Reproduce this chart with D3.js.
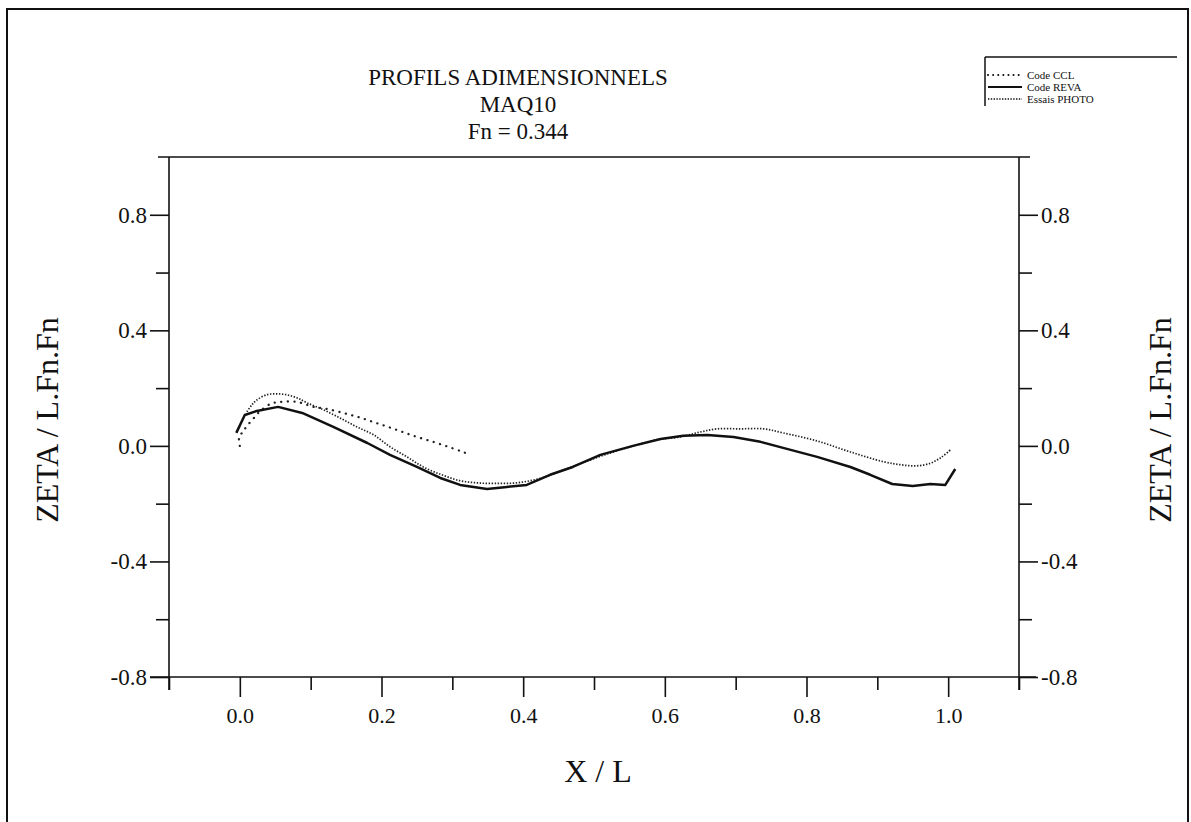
<!DOCTYPE html>
<html><head><meta charset="utf-8">
<script src="https://cdn.jsdelivr.net/npm/d3@7"></script>
<style>
html,body{margin:0;padding:0;background:#fff;}
svg{display:block;}
text{font-family:"Liberation Serif","Times New Roman",serif;fill:#111;}
</style></head>
<body>
<svg id="chart" width="1191" height="822"></svg>
<script>
// ---- data ----
const titleLines = ["PROFILS ADIMENSIONNELS", "MAQ10", "Fn = 0.344"];
const xLabel = "X / L";
const yLabel = "ZETA / L.Fn.Fn";
const legendLabels = ["Code CCL", "Code REVA", "Essais PHOTO"];
const xMajorTicks = [0.0, 0.2, 0.4, 0.6, 0.8, 1.0];
const xMinorTicks = [-0.1, 0.1, 0.3, 0.5, 0.7, 0.9, 1.1];
const yMajorTicks = [-0.8, -0.4, 0.0, 0.4, 0.8];
const yMinorTicks = [-0.6, -0.2, 0.2, 0.6];

const cclX = [0.0, -0.001, 0.004, 0.010, 0.019, 0.026, 0.043, 0.057, 0.081, 0.104, 0.123, 0.146, 0.167, 0.188, 0.209, 0.230, 0.250, 0.273, 0.294, 0.315, 0.325];
const cclY = [0.0, 0.031, 0.048, 0.069, 0.094, 0.114, 0.145, 0.152, 0.152, 0.135, 0.128, 0.114, 0.100, 0.083, 0.066, 0.048, 0.031, 0.014, -0.003, -0.021, -0.031];

const revaX = [-0.005, 0.007, 0.024, 0.054, 0.088, 0.132, 0.180, 0.212, 0.250, 0.283, 0.311, 0.349, 0.377, 0.405, 0.438, 0.470, 0.509, 0.555, 0.594, 0.626, 0.660, 0.697, 0.735, 0.767, 0.815, 0.862, 0.890, 0.921, 0.950, 0.975, 0.996, 1.010];
const revaY = [0.045, 0.107, 0.121, 0.135, 0.114, 0.066, 0.010, -0.031, -0.073, -0.111, -0.135, -0.149, -0.142, -0.135, -0.100, -0.073, -0.031, 0.0, 0.024, 0.035, 0.038, 0.031, 0.014, -0.007, -0.038, -0.073, -0.100, -0.132, -0.139, -0.132, -0.135, -0.080];

const photoX = [0.010, 0.017, 0.024, 0.038, 0.052, 0.066, 0.081, 0.095, 0.118, 0.141, 0.165, 0.189, 0.212, 0.236, 0.259, 0.285, 0.310, 0.335, 0.360, 0.390, 0.420, 0.450, 0.480, 0.520, 0.560, 0.590, 0.622, 0.650, 0.674, 0.706, 0.739, 0.767, 0.815, 0.862, 0.909, 0.935, 0.956, 0.975, 0.990, 1.003];
const photoY = [0.118, 0.142, 0.159, 0.177, 0.180, 0.177, 0.166, 0.149, 0.125, 0.097, 0.066, 0.038, -0.003, -0.038, -0.073, -0.100, -0.120, -0.128, -0.130, -0.128, -0.115, -0.090, -0.062, -0.027, 0.003, 0.022, 0.031, 0.048, 0.059, 0.059, 0.059, 0.045, 0.017, -0.021, -0.055, -0.066, -0.069, -0.060, -0.040, -0.014];

// ---- layout ----
const svg = d3.select("#chart");
const L = 169, R = 1019, T = 157, B = 677;
const x = d3.scaleLinear().domain([-0.1, 1.1]).range([L, R]);
const y = d3.scaleLinear().domain([-0.8, 1.0]).range([B, T]);
const fmt = v => v.toFixed(1).replace("−", "-");

// outer frame
svg.append("rect").attr("x", 7).attr("y", 9).attr("width", 1181).attr("height", 830)
  .attr("fill", "none").attr("stroke", "#111").attr("stroke-width", 2);

const frame = svg.append("g").attr("stroke", "#111").attr("stroke-width", 1.6);
frame.append("line").attr("x1", L - 11).attr("x2", R + 11).attr("y1", T).attr("y2", T);
frame.append("line").attr("x1", L - 19).attr("x2", R + 17).attr("y1", B).attr("y2", B);
frame.append("line").attr("x1", L).attr("x2", L).attr("y1", T).attr("y2", B + 13);
frame.append("line").attr("x1", R).attr("x2", R).attr("y1", T).attr("y2", B + 13);

// bottom axis
const xAxisMajor = d3.axisBottom(x).tickValues(xMajorTicks).tickSize(20).tickFormat(fmt).tickPadding(10);
const gx = svg.append("g").attr("transform", `translate(0,${B})`).call(xAxisMajor);
const xAxisMinor = d3.axisBottom(x).tickValues(xMinorTicks).tickSize(13).tickFormat("");
const gx2 = svg.append("g").attr("transform", `translate(0,${B})`).call(xAxisMinor);
[gx, gx2].forEach(g => {
  g.select(".domain").remove();
  g.selectAll(".tick line").attr("stroke", "#111").attr("stroke-width", 1.6);
});
gx.selectAll(".tick text").attr("font-size", 22).attr("font-family", "Liberation Serif").attr("fill", "#111");

// left axis
const yAxisL = d3.axisLeft(y).tickValues(yMajorTicks).tickSize(19).tickFormat(fmt).tickPadding(3);
const gyl = svg.append("g").attr("transform", `translate(${L},0)`).call(yAxisL);
const gyl2 = svg.append("g").attr("transform", `translate(${L},0)`).call(d3.axisLeft(y).tickValues(yMinorTicks).tickSize(13).tickFormat(""));
// right axis
const yAxisR = d3.axisRight(y).tickValues(yMajorTicks).tickSize(19).tickFormat(fmt).tickPadding(3);
const gyr = svg.append("g").attr("transform", `translate(${R},0)`).call(yAxisR);
const gyr2 = svg.append("g").attr("transform", `translate(${R},0)`).call(d3.axisRight(y).tickValues(yMinorTicks).tickSize(13).tickFormat(""));
[gyl, gyl2, gyr, gyr2].forEach(g => {
  g.select(".domain").remove();
  g.selectAll(".tick line").attr("stroke", "#111").attr("stroke-width", 1.6);
});
[gyl, gyr].forEach(g => g.selectAll(".tick text").attr("font-size", 23).attr("font-family", "Liberation Serif").attr("fill", "#111"));

// titles
const tg = svg.append("g").attr("text-anchor", "middle").attr("font-size", 23);
titleLines.forEach((t, i) => {
  tg.append("text").attr("x", 518).attr("y", 85 + i * 27).text(t);
});

// axis labels
svg.append("text").attr("x", 598).attr("y", 782).attr("text-anchor", "middle").attr("font-size", 32).text(xLabel);
svg.append("text").attr("transform", "translate(58,420) rotate(-90)").attr("text-anchor", "middle").attr("font-size", 32).text(yLabel);
svg.append("text").attr("transform", "translate(1171,420) rotate(-90)").attr("text-anchor", "middle").attr("font-size", 32).text(yLabel);

// curves
const line = d3.line().x(d => x(d[0])).y(d => y(d[1]));
const cclData = cclX.map((v, i) => [v, cclY[i]]);
const revaData = revaX.map((v, i) => [v, revaY[i]]);
const photoData = photoX.map((v, i) => [v, photoY[i]]);

svg.append("path").datum(photoData).attr("d", line.curve(d3.curveCatmullRom))
  .attr("fill", "none").attr("stroke", "#222").attr("stroke-width", 1.7).attr("stroke-dasharray", "1.4,1.6");
svg.append("path").datum(cclData).attr("d", line.curve(d3.curveCatmullRom))
  .attr("fill", "none").attr("stroke", "#222").attr("stroke-width", 2.3).attr("stroke-linecap", "round").attr("stroke-dasharray", "0.1,6.5");
svg.append("path").datum(revaData).attr("d", line.curve(d3.curveLinear))
  .attr("fill", "none").attr("stroke", "#111").attr("stroke-width", 2.5).attr("stroke-linejoin", "round");

// legend
const lg = svg.append("g");
lg.append("line").attr("x1", 985).attr("x2", 1177).attr("y1", 57).attr("y2", 57).attr("stroke", "#111").attr("stroke-width", 1.5);
lg.append("line").attr("x1", 985).attr("x2", 985).attr("y1", 57).attr("y2", 106).attr("stroke", "#111").attr("stroke-width", 1.5);
const styles = [
  {w: 2, dash: "0.1,5", cap: "round"},
  {w: 2.2, dash: null, cap: "butt"},
  {w: 1.5, dash: "1.4,1.4", cap: "butt"}
];
legendLabels.forEach((lab, i) => {
  const yy = 75 + i * 12;
  const s = styles[i];
  const l = lg.append("line").attr("x1", 988).attr("x2", 1022).attr("y1", yy).attr("y2", yy)
    .attr("stroke", "#111").attr("stroke-width", s.w).attr("stroke-linecap", s.cap);
  if (s.dash) l.attr("stroke-dasharray", s.dash);
  lg.append("text").attr("x", 1027).attr("y", yy + 4).attr("font-size", 11).text(lab);
});
</script>
</body></html>
